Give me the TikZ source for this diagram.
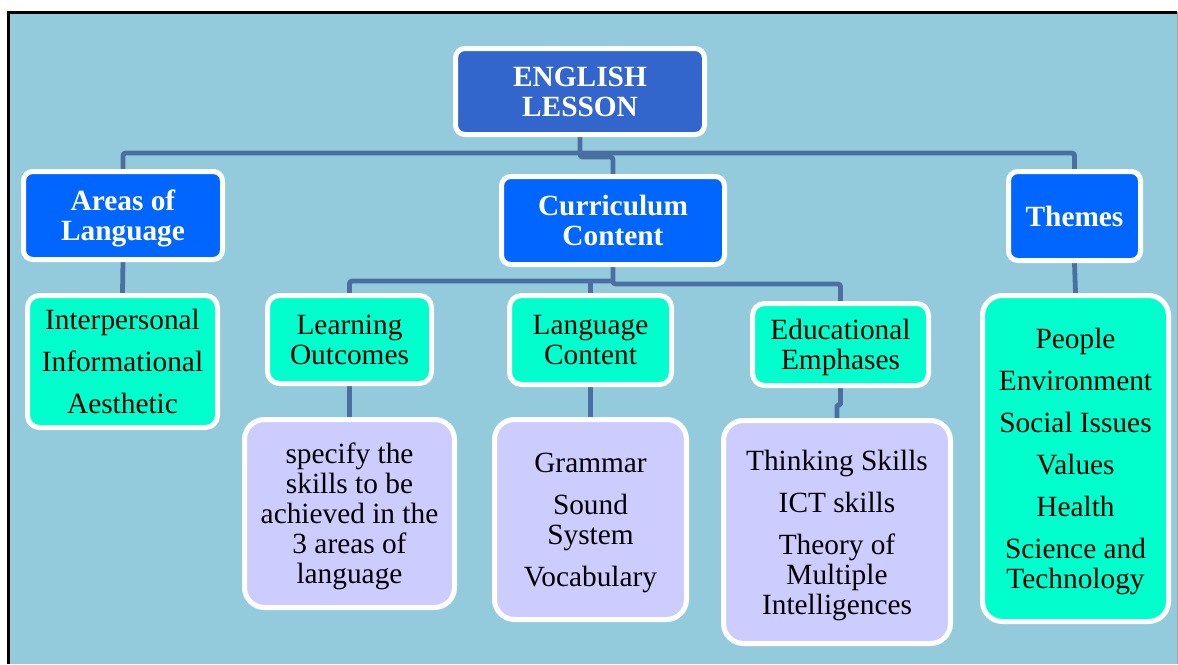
\documentclass[tikz,border=0pt]{standalone}
\usepackage{fontspec}
\setmainfont{Liberation Serif}
\usetikzlibrary{backgrounds}
\definecolor{bgblue}{HTML}{93CBDC}
\definecolor{darkhdr}{HTML}{3366CC}
\definecolor{brighthdr}{HTML}{0066FF}
\definecolor{tealbox}{HTML}{00FFCC}
\definecolor{lavbox}{HTML}{CCCCFF}
\definecolor{connblue}{HTML}{4A6FA3}
\tikzset{
  x=0.75pt, y=-0.75pt,
  boxbase/.style 2 args={rectangle, draw=white, line width=3.75pt, inner sep=0pt, align=center,
    minimum width=#1*0.75pt-3.75pt, minimum height=#2*0.75pt-3.75pt, text depth=0pt,
    font=\fontsize{22}{22.5}\selectfont},
  hdrbox/.style 2 args={boxbase={#1}{#2}, fill=brighthdr, text=white, rounded corners=7pt,
    font=\fontsize{22}{22.5}\selectfont\bfseries},
  tealnode/.style 2 args={boxbase={#1}{#2}, fill=tealbox, text=black, rounded corners=9pt},
  lavnode/.style 2 args={boxbase={#1}{#2}, fill=lavbox, text=black, rounded corners=15pt},
  conn/.style={draw=connblue, line width=3.6pt, rounded corners=2pt},
}
\begin{document}
\begin{tikzpicture}
\useasboundingbox (0,0) rectangle (1178,664);
% nodes
\node[hdrbox={254}{91}, fill=darkhdr] (EL) at (580,91.5) {ENGLISH\\LESSON};
\node[hdrbox={204}{93}] (AL) at (123,215.5) {Areas of\\Language};
\node[hdrbox={228}{93}] (CC) at (613,220.5) {Curriculum\\Content};
\node[hdrbox={137}{94}] (TH) at (1074.5,216) {Themes};
\node[tealnode={195}{137}] (IP) at (122.5,361.5) {Interpersonal\\[9pt]Informational\\[9pt]Aesthetic};
\node[tealnode={169}{93}] (LO) at (349.5,339.5) {Learning\\Outcomes};
\node[tealnode={167}{94}] (LC) at (590.5,340) {Language\\Content};
\node[tealnode={181}{87}] (EE) at (840.5,344.5) {Educational\\Emphases};
\node[tealnode={191}{331}, rounded corners=15pt] (TL) at (1075.5,458.5) {People\\[9pt]Environment\\[9pt]Social Issues\\[9pt]Values\\[9pt]Health\\[9pt]Science and\\Technology};
\node[lavnode={215}{193}] (SP) at (349.5,513.5) {specify the\\skills to be\\achieved in the\\3 areas of\\language};
\node[lavnode={197}{205}] (GR) at (590.5,519.5) {Grammar\\[9pt]Sound\\System\\[9pt]Vocabulary};
\node[lavnode={232}{228}] (TS) at (837,532) {Thinking Skills\\[9pt]ICT skills\\[9pt]Theory of\\Multiple\\Intelligences};
\begin{pgfonlayer}{background}
\fill[bgblue] (9,13) rectangle (1178,664);
\draw[black, line width=2.25pt] (8,664) -- (8,12) -- (1177,12);
\draw[gray!70, line width=0.75pt] (1177,12) -- (1177,664);
% connectors
\draw[conn] (AL.north) -- (AL.north |- 0,153) -- (TH.north |- 0,153) -- (TH.north);
\draw[conn] (EL.south) -- (EL.south |- 0,157) -- (CC.north |- 0,157) -- (CC.north);
\draw[conn] (CC.south) -- (CC.south |- 0,284) -- (EE.north |- 0,284) -- (EE.north);
\draw[conn] (LO.north) -- (LO.north |- 0,281) -- (CC.south |- 0,281);
\draw[conn] (LC.north) -- (LC.north |- 0,281);
\draw[conn] (AL.south) -- (IP.north);
\draw[conn] (LO.south) -- (SP.north);
\draw[conn] (LC.south) -- (GR.north);
\draw[conn, rounded corners=1pt] (EE.south) -- (EE.south |- 0,405) -- (TS.north |- 0,405) -- (TS.north);
\draw[conn] (TH.south) -- (TL.north);
\end{pgfonlayer}
\end{tikzpicture}
\end{document}
